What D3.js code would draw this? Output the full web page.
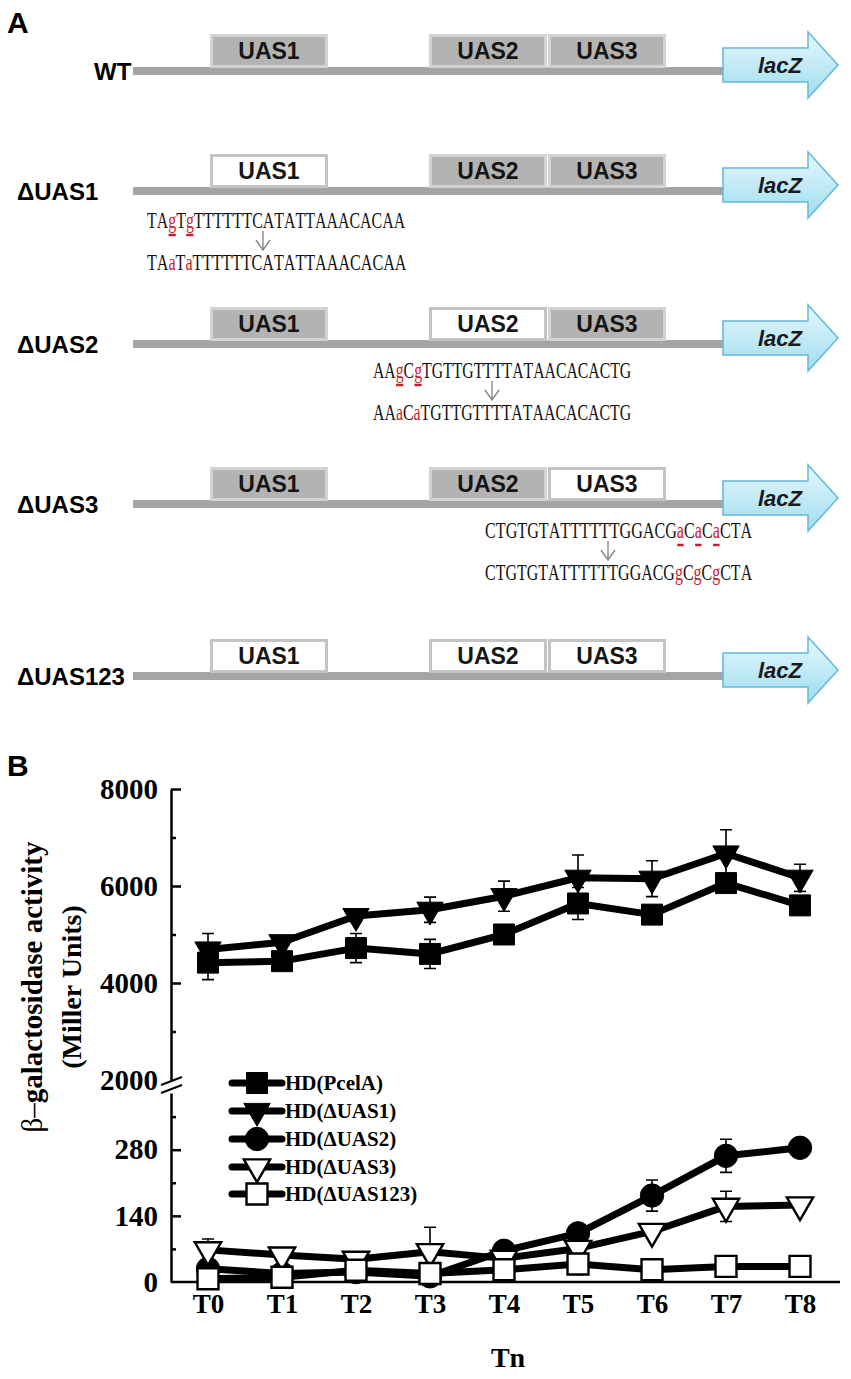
<!DOCTYPE html>
<html>
<head>
<meta charset="utf-8">
<script src="https://cdn.jsdelivr.net/npm/d3@7"></script>
<style>
  body { margin: 0; background: #fff; }
  svg { display: block; }
</style>
</head>
<body>
<svg id="fig" width="851" height="1379"></svg>
<script>
// ---- panel A data ----
var constructs = ["WT", "ΔUAS1", "ΔUAS2", "ΔUAS3", "ΔUAS123"];
var uasNames = ["UAS1", "UAS2", "UAS3"];
var mutated = [[], ["UAS1"], ["UAS2"], ["UAS3"], ["UAS1", "UAS2", "UAS3"]];
// lower case letters = mutated bases (red)
var seqBefore = ["TAgTgTTTTTTCATATTAAACACAA", "AAgCgTGTTGTTTTATAACACACTG", "CTGTGTATTTTTTGGACGaCaCaCTA"];
var seqAfter  = ["TAaTaTTTTTTCATATTAAACACAA", "AAaCaTGTTGTTTTATAACACACTG", "CTGTGTATTTTTTGGACGgCgCgCTA"];
var seqRow = [1, 2, 3];

// ---- panel B data ----
var timepoints = ["T0", "T1", "T2", "T3", "T4", "T5", "T6", "T7", "T8"];
var seriesNames = ["HD(PcelA)", "HD(ΔUAS1)", "HD(ΔUAS2)", "HD(ΔUAS3)", "HD(ΔUAS123)"];
var pcelA      = [4420, 4450, 4720, 4600, 5000, 5640, 5410, 6060, 5600];
var pcelAErr   = [350, 120, 300, 300, 130, 330, 150, 150, 120];
var dUAS1      = [4690, 4840, 5380, 5510, 5790, 6170, 6150, 6670, 6170];
var dUAS1Err   = [330, 100, 120, 260, 310, 470, 370, 490, 280];
var dUAS2      = [28, 18, 21, 12, 66, 103, 183, 267, 284];
var dUAS2Err   = [8, 5, 6, 4, 12, 16, 33, 35, 8];
var dUAS3      = [68, 57, 48, 64, 50, 71, 107, 160, 163];
var dUAS3Err   = [23, 8, 6, 52, 6, 14, 10, 32, 8];
var dUAS123    = [7, 10, 25, 18, 26, 38, 26, 33, 33];
var dUAS123Err = [4, 5, 8, 5, 6, 22, 6, 10, 6];
var highTicks = [2000, 4000, 6000, 8000];
var highMinor = [3000, 5000, 7000];
var lowTicks = [0, 140, 280];
var lowMinor = [70, 210, 350];

var svg = d3.select("#fig");
var sans = "'Liberation Sans', Arial, sans-serif";
var serif = "'Liberation Serif', 'Times New Roman', serif";
var red = "#c8202a";

// ================= PANEL A =================
svg.append("text").attr("x", 7).attr("y", 33).text("A")
  .style("font-family", sans).style("font-weight", "bold").style("font-size", "30px");

var defs = svg.append("defs");
var grad = defs.append("linearGradient").attr("id", "lacz").attr("x1", 0).attr("y1", 0).attr("x2", 0).attr("y2", 1);
grad.append("stop").attr("offset", "0%").attr("stop-color", "#e6f8fd");
grad.append("stop").attr("offset", "100%").attr("stop-color", "#9fdcef");

var rowY = [71, 191, 344, 504, 676];
var boxX = d3.scaleOrdinal().domain(uasNames).range([210, 429, 548]);
var boxW = 118;

constructs.forEach(function(name, i) {
  var cy = rowY[i];
  var g = svg.append("g");
  // promoter line
  g.append("rect").attr("x", 133).attr("y", cy - 4).attr("width", 600).attr("height", 8).attr("fill", "#a5a5a5");
  // boxes
  uasNames.forEach(function(u) {
    var open = mutated[i].indexOf(u) >= 0;
    g.append("rect")
      .attr("x", boxX(u) + 1.5).attr("y", cy - 35.5)
      .attr("width", boxW - 3).attr("height", 31)
      .attr("fill", open ? "#fff" : "#b3b3b3")
      .attr("stroke", open ? "#c4c4c4" : "#d3d3d3")
      .attr("stroke-width", 3);
    g.append("text").attr("x", boxX(u) + boxW / 2).attr("y", cy - 12)
      .attr("text-anchor", "middle").text(u)
      .style("font-family", sans).style("font-weight", "bold").style("font-size", "23px").attr("fill", "#151515");
  });
  // lacZ arrow
  g.append("path")
    .attr("d", "M723," + (cy - 23) + "L808," + (cy - 23) + "L808," + (cy - 39) + "L838," + (cy - 6) +
               "L808," + (cy + 27) + "L808," + (cy + 11) + "L723," + (cy + 11) + "Z")
    .attr("fill", "url(#lacz)").attr("stroke", "#5fbbd7").attr("stroke-width", 1.5);
  g.append("text").attr("x", 780).attr("y", cy + 2).attr("text-anchor", "middle").text("lacZ")
    .style("font-family", sans).style("font-weight", "bold").style("font-style", "italic")
    .style("font-size", "22px").attr("fill", "#1a1a1a");
  // label
  g.append("text").attr("x", i === 0 ? 94 : 17).attr("y", cy + 9).text(name)
    .style("font-family", sans).style("font-weight", "bold").style("font-size", "24px");
});

// mutated sequences
var seqX = [147, 373, 485];
var seqBase = [228, 378, 538];
var seqWidth = [251, 254, 263];
var arrowX = [263, 492, 608];

function seqLine(str, x, y, w, underline) {
  var g = svg.append("g");
  var t = g.append("text").attr("x", 0).attr("y", 0)
    .style("font-family", serif).style("font-size", "23px");
  str.split("").forEach(function(c) {
    t.append("tspan").text(c).attr("fill", c === c.toLowerCase() ? red : "#111");
  });
  var node = t.node();
  var sx = w / node.getComputedTextLength();
  g.attr("transform", "translate(" + x + "," + y + ") scale(" + sx + ",1)");
  if (underline) {
    str.split("").forEach(function(c, k) {
      if (c !== c.toLowerCase()) return;
      var a = node.getStartPositionOfChar(k).x, b = node.getEndPositionOfChar(k).x;
      g.append("line").attr("x1", a + 0.5).attr("x2", b - 0.5).attr("y1", 7).attr("y2", 7)
        .attr("stroke", red).attr("stroke-width", 2.5);
    });
  }
}

seqRow.forEach(function(r, k) {
  seqLine(seqBefore[k], seqX[k], seqBase[k], seqWidth[k], true);
  seqLine(seqAfter[k], seqX[k], seqBase[k] + 42, seqWidth[k], false);
  var ax = arrowX[k], y1 = seqBase[k] + 3, y2 = seqBase[k] + 22;
  svg.append("path")
    .attr("d", "M" + ax + "," + y1 + "L" + ax + "," + y2 + "M" + (ax - 7) + "," + (y2 - 10) + "L" + ax + "," + y2 + "L" + (ax + 7) + "," + (y2 - 10))
    .attr("fill", "none").attr("stroke", "#8a8a8a").attr("stroke-width", 1.4);
});

// ================= PANEL B =================
svg.append("text").attr("x", 7).attr("y", 776).text("B")
  .style("font-family", sans).style("font-weight", "bold").style("font-size", "30px");

var axisX = 171;
var x = d3.scalePoint().domain(timepoints).range([axisX, 837]).padding(0.5);
var yHigh = d3.scaleLinear().domain([2000, 8000]).range([1080, 789]);
var yLow = d3.scaleLinear().domain([0, 400]).range([1282, 1093]);

function styleAxis(g, size) {
  g.selectAll("path.domain").attr("stroke", "#000").attr("stroke-width", 2.5);
  g.selectAll(".tick line").attr("stroke", "#000").attr("stroke-width", 2.5);
  g.selectAll(".tick text").style("font-family", serif).style("font-weight", "bold")
    .style("font-size", size + "px").attr("fill", "#000");
}

var gHigh = svg.append("g").attr("transform", "translate(" + axisX + ",0)")
  .call(d3.axisLeft(yHigh).tickValues(highTicks).tickSizeInner(-10).tickSizeOuter(0).tickPadding(13).tickFormat(d3.format("d")));
styleAxis(gHigh, 29);
gHigh.selectAll(".tick").filter(function(d) { return d === 2000; }).select("line").remove();
svg.append("g").attr("transform", "translate(" + axisX + ",0)")
  .call(d3.axisLeft(yHigh).tickValues(highMinor).tickSizeInner(-5).tickSizeOuter(0).tickFormat(""))
  .call(function(g) { styleAxis(g, 29); g.select("path.domain").remove(); });

var gLow = svg.append("g").attr("transform", "translate(" + axisX + ",0)")
  .call(d3.axisLeft(yLow).tickValues(lowTicks).tickSizeInner(-10).tickSizeOuter(0).tickPadding(13));
styleAxis(gLow, 29);
gLow.selectAll(".tick").filter(function(d) { return d === 0; }).select("line").remove();
svg.append("g").attr("transform", "translate(" + axisX + ",0)")
  .call(d3.axisLeft(yLow).tickValues(lowMinor).tickSizeInner(-5).tickSizeOuter(0).tickFormat(""))
  .call(function(g) { styleAxis(g, 29); g.select("path.domain").remove(); });

// axis break marks
svg.append("path")
  .attr("d", "M161,1085L182,1077M161,1093L182,1085")
  .attr("stroke", "#000").attr("stroke-width", 2).attr("fill", "none");

// x axis
var gx = svg.append("g").attr("transform", "translate(0,1282)")
  .call(d3.axisBottom(x).tickSize(0).tickPadding(12));
gx.select("path.domain").attr("d", "M" + axisX + ",0H840");
styleAxis(gx, 27);

svg.append("text").attr("x", 508).attr("y", 1367).attr("text-anchor", "middle").text("Tn")
  .style("font-family", serif).style("font-weight", "bold").style("font-size", "28px");

// y title
var yt = svg.append("g").attr("transform", "translate(0,987) rotate(-90)");
var t1 = yt.append("text").attr("x", 0).attr("y", 42).attr("text-anchor", "middle")
  .style("font-family", serif).style("font-size", "29px");
t1.append("tspan").text("β–");
t1.append("tspan").style("font-weight", "bold").text("galactosidase activity");
yt.append("text").attr("x", 0).attr("y", 81).attr("text-anchor", "middle").text("(Miller Units)")
  .style("font-family", serif).style("font-weight", "bold").style("font-size", "28px");

// series
var series = [
  { name: seriesNames[0], values: pcelA, err: pcelAErr, y: yHigh, shape: "square", fill: "#000" },
  { name: seriesNames[1], values: dUAS1, err: dUAS1Err, y: yHigh, shape: "tri", fill: "#000" },
  { name: seriesNames[2], values: dUAS2, err: dUAS2Err, y: yLow, shape: "circle", fill: "#000" },
  { name: seriesNames[3], values: dUAS3, err: dUAS3Err, y: yLow, shape: "tri", fill: "#fff" },
  { name: seriesNames[4], values: dUAS123, err: dUAS123Err, y: yLow, shape: "square", fill: "#fff" }
];

function symbolPath(shape) {
  if (shape === "square") return d3.symbol(d3.symbolSquare, 440)();
  if (shape === "circle") return d3.symbol(d3.symbolCircle, 430)();
  return d3.symbol(d3.symbolTriangle, 300)();
}
function addMarker(g, s, cx, cy) {
  g.append("path").attr("d", symbolPath(s.shape))
    .attr("transform", "translate(" + cx + "," + cy + ")" + (s.shape === "tri" ? " rotate(180)" : ""))
    .attr("fill", s.fill).attr("stroke", "#000").attr("stroke-width", s.fill === "#fff" ? 2.4 : 1);
}

var line = d3.line();
var plot = svg.append("g");
series.forEach(function(s) {
  plot.append("path")
    .attr("d", line(timepoints.map(function(t, i) { return [x(t), s.y(s.values[i])]; })))
    .attr("fill", "none").attr("stroke", "#000").attr("stroke-width", 7).attr("stroke-linejoin", "round");
});
// error bars sit behind the markers
series.forEach(function(s) {
  timepoints.forEach(function(t, i) {
    var cx = x(t), top = s.y(s.values[i] + s.err[i]), bot = s.y(s.values[i] - s.err[i]);
    plot.append("path")
      .attr("d", "M" + cx + "," + top + "V" + bot + "M" + (cx - 6) + "," + top + "H" + (cx + 6) + "M" + (cx - 6) + "," + bot + "H" + (cx + 6))
      .attr("stroke", "#000").attr("stroke-width", 1.6).attr("fill", "none");
  });
});
series.forEach(function(s) {
  timepoints.forEach(function(t, i) { addMarker(plot, s, x(t), s.y(s.values[i])); });
});

// legend
var legY = [1083, 1111, 1139, 1167, 1194];
var leg = svg.append("g");
series.forEach(function(s, i) {
  var ly = legY[i];
  leg.append("line").attr("x1", 232).attr("x2", 282).attr("y1", ly).attr("y2", ly)
    .attr("stroke", "#000").attr("stroke-width", 7).attr("stroke-linecap", "round");
  addMarker(leg, s, 257, ly);
  leg.append("text").attr("x", 285).attr("y", ly + 7).text(s.name)
    .style("font-family", serif).style("font-weight", "bold").style("font-size", "21px");
});
</script>
</body>
</html>
